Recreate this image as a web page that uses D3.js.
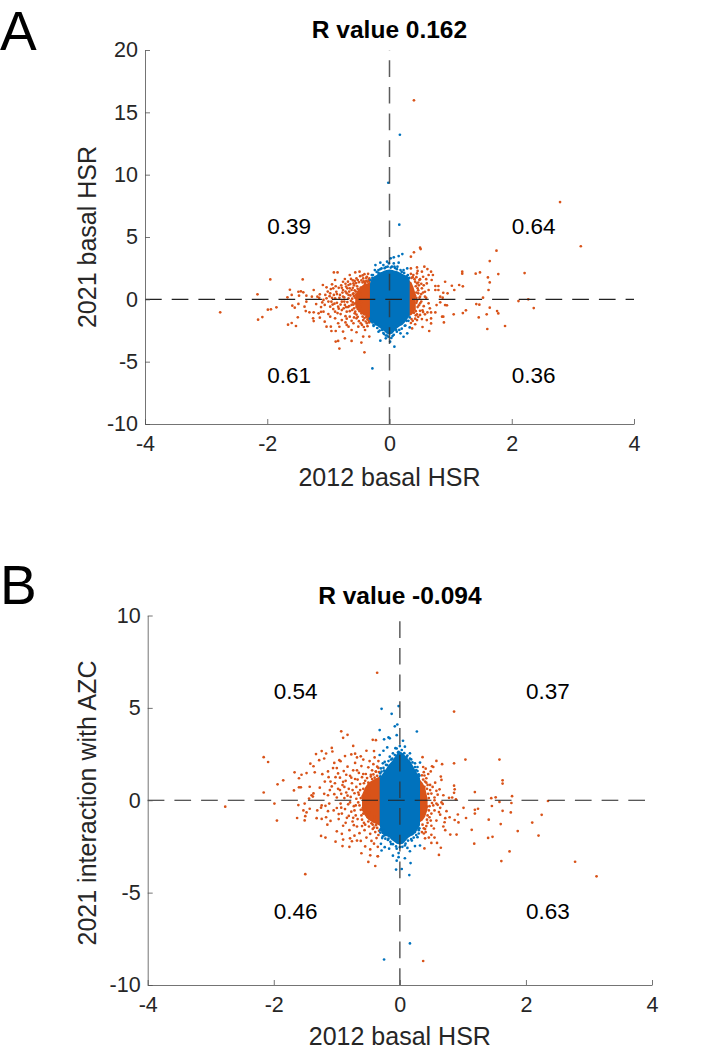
<!DOCTYPE html>
<html><head><meta charset="utf-8">
<script src="https://cdnjs.cloudflare.com/ajax/libs/d3/7.8.5/d3.min.js"></script>
<style>html,body{margin:0;padding:0;background:#fff}svg{display:block}text{font-family:"Liberation Sans",Arial,sans-serif}</style>
</head><body><svg id="c" width="714" height="1050"></svg>
<script>
const xTicks=[-4,-2,0,2,4];
const yTicksA=[-10,-5,0,5,10,15,20];
const yTicksB=[-10,-5,0,5,10];
const quadA=[["0.39",-2,5.9],["0.64",2,5.9],["0.61",-2,-6.1],["0.36",2,-6.1]];
const quadB=[["0.54",-2,5.9],["0.37",2,5.9],["0.46",-2,-6],["0.63",2,-6]];

// dense centre of each cloud, read as outlines
const blueCoreA=[[-0.32,1.25,-1.45],[-0.29,1.7,-1.75],[-0.25,1.85,-1.95],[-0.21,1.95,-2.1],[-0.17,2.15,-2.25],[-0.13,2.2,-2.4],[-0.09,2.3,-2.55],[-0.05,2.35,-2.75],[0,2.4,-2.85],[0.05,2.35,-2.75],[0.09,2.3,-2.5],[0.13,2.25,-2.3],[0.17,2.15,-2.15],[0.21,2.05,-2.05],[0.25,1.95,-1.85],[0.29,1.85,-1.6],[0.33,1.6,-1.3]];
const orangeCoreA=[[-0.56,0.35,-0.5],[-0.52,0.75,-0.85],[-0.47,1.0,-1.1],[-0.42,1.2,-1.3],[-0.36,1.3,-1.35],[-0.31,1.4,-1.5]];
const orangeCoreA2=[[0.31,1.55,-1.35],[0.36,1.35,-1.25],[0.39,1.0,-1.1],[0.43,0.4,-0.8]];
const blueCoreB=[[-0.32,1.2,-1.35],[-0.29,1.35,-1.8],[-0.25,1.55,-1.9],[-0.21,1.75,-1.95],[-0.17,1.95,-2.0],[-0.13,2.1,-2.15],[-0.09,2.3,-2.25],[-0.05,2.5,-2.35],[0,2.65,-2.4],[0.05,2.55,-2.35],[0.09,2.4,-2.2],[0.13,2.25,-2.05],[0.17,2.1,-1.95],[0.21,1.85,-1.9],[0.25,1.6,-1.75],[0.29,1.4,-1.55],[0.32,1.2,-1.35]];
const orangeCoreB=[[-0.60,0.3,-0.55],[-0.55,0.7,-0.85],[-0.5,0.95,-1.05],[-0.43,1.1,-1.2],[-0.37,1.2,-1.3],[-0.31,1.3,-1.4]];
const orangeCoreB2=[[0.31,1.15,-1.2],[0.36,0.95,-1.1],[0.40,0.7,-0.9],[0.44,0.1,-0.5]];

const orangeA=[[0.40,15.96],[2.79,7.8],[3.13,4.26],
[-2.77,-1.04],[-2.16,0.40],[-1.95,1.60],[-1.42,1.60],[-1.85,-0.64],[-1.94,-0.80],[-1.99,-0.83],[-2.08,-1.42],[-2.15,-1.63],[-1.63,0.77],[-1.60,0.35],[-1.67,0.16],[-1.59,-0.51],[-1.55,-0.67],[-1.49,-0.37],[-1.50,-1.44],[-1.60,-1.90],[-1.66,-2.03],[-1.53,-2.14],[-1.49,0.61],[-1.45,0.64],[-1.41,0.56],[-1.48,0.29],
[-1.24,0.75],[-1.09,1.15],[-1.03,0.96],[-1.14,0.40],[-1.27,0.21],[-1.18,0.21],[-1.36,0.29],[-1.36,-0.19],[-1.39,-0.59],[-1.31,-1.04],[-1.37,-0.94],[-1.24,-1.04],[-1.16,-1.12],[-1.25,-1.52],[-1.24,-1.74],[-1.14,-1.47],[-1.08,-0.99],[-1.06,-0.45],[-1.08,-0.05],[-1.03,0.08],[-0.97,0.48],[-0.92,0.88],[-0.87,0.61],[-0.97,-0.59],[-0.95,-0.19],[-0.89,0.08],[-0.81,0.35],[-0.76,0.75],[-0.67,1.15],[-0.76,1.41],[-0.89,1.55],[-0.91,2.16],[-0.85,2.16],[-0.73,1.63],[-0.65,1.95],[-0.56,2.16],[-0.49,2.22],[-0.54,1.68],[-0.59,1.28],[-0.65,0.88],[-0.70,0.48],[-0.78,-0.19],[-0.84,-0.59],[-0.89,-0.99],[-0.97,-1.39],[-1.06,-1.79],[-1.03,-2.19],[-0.96,-2.19],[-0.95,-2.54],[-0.88,-2.54],[-0.84,-1.92],[-0.78,-1.66],[-0.89,-1.52],[-0.70,-0.99],
[-0.62,-0.45],[-0.54,0.08],[-0.48,0.61],[-0.40,1.15],[-0.37,1.81],[-0.33,1.41],[-0.43,1.68],[-0.59,0.48],[-0.67,0.08],[-0.73,-0.45],[-0.78,-0.86],[-0.65,-1.39],[-0.56,-0.99],[-0.48,-0.59],[-0.54,-1.52],[-0.46,-1.12],[-0.59,-1.92],[-0.51,-2.19],[-0.43,-1.66],[-0.35,-1.39],[-0.67,-2.19],[-0.62,-2.46],[-0.54,-2.64],[-0.40,-2.46],[-0.37,-1.92],[-0.76,-2.59],[-0.73,-3.13],[-0.62,-3.34],[-0.46,-3.47],[-0.43,-2.99],[-0.84,-3.34],[-0.88,-3.39],[-0.82,-3.95],[-0.41,-4.25],[-0.33,-2.99],
[-0.98,0.25],[-0.93,-0.42],[-0.91,0.35],[-0.86,-0.28],[-0.83,0.92],[-0.82,0.12],[-0.79,1.12],[-0.80,-1.18],[-0.77,0.54],[-0.75,-0.72],[-0.74,0.15],[-0.72,-1.35],[-0.71,1.02],[-0.69,-0.22],[-0.68,1.42],[-0.68,-0.62],[-0.66,0.62],[-0.65,-0.95],[-0.64,0.31],[-0.63,1.64],[-0.62,-1.72],[-0.61,0.05],[-0.60,0.92],[-0.60,-0.25],[-0.58,-0.72],[-0.57,0.72],[-0.57,1.48],[-0.56,-0.32],[-0.55,0.38],[-0.54,-1.22],[-0.53,1.05],[-0.52,-0.78],[-0.51,0.22],[-0.50,1.38],[-0.50,-1.75],[-0.49,-0.12],[-0.48,1.86],[-0.47,-1.92],[-0.46,1.52],[-0.45,-2.05],[-0.44,1.92],[-0.42,-2.22],[-0.41,2.02],[-0.39,-1.78],[-0.38,1.72],[-0.36,-2.15],[-0.35,2.05],[-0.34,-1.72],[-0.72,-1.85],[-0.85,-1.1],[-0.92,-0.78],[-1.0,-1.18],[-1.12,-0.62],[-1.01,0.62],[-1.2,-0.38],[-0.94,1.2],[-0.82,-2.2],[-0.7,-2.05],
[-0.47,0.95],[-0.48,0.35],[-0.47,-0.25],[-0.49,-0.95],[-0.5,0.55],[-0.51,-0.45],[-0.52,0.85],[-0.53,-0.15],[-0.54,-0.62],[-0.55,0.62],[-0.56,0.12],[-0.57,-1.12],[-0.58,0.25],[-0.58,1.12],[-0.59,-0.42],[-0.6,0.42],[-0.61,-0.85],[-0.62,0.75],[-0.63,-0.12],[-0.64,1.22],[-0.66,-0.55],[-0.67,0.35],[-0.69,0.88],[-0.71,-0.62],[-0.72,0.62],[-0.74,-0.18],[-0.76,0.22],[-0.78,0.92],[-0.8,-0.42],[-0.83,-0.75],[-0.86,0.42],[-0.88,1.05],[-0.9,-0.35],[-0.94,0.12],[-0.96,0.82],[-1.0,-0.18],[-1.05,0.35],[-1.1,-0.25],[-1.15,0.12],[-1.12,-1.0],
[-0.44,1.35],[-0.42,1.45],[-0.4,1.32],[-0.38,1.48],[-0.36,1.42],[-0.34,1.56],[-0.33,1.68],[-0.44,-1.38],[-0.41,-1.5],[-0.38,-1.42],[-0.36,-1.6],[-0.34,-1.5],[-0.33,-1.85],[-0.52,1.55],[-0.55,1.3],[-0.52,-1.4],[-0.58,-1.45],[-0.6,1.52],[-0.72,1.25],[-0.7,-1.55],
[0.51,4.03],[0.50,4.14],[1.75,3.90],[0.40,3.77],[0.35,3.42],[1.64,3.07],[0.35,2.48],[0.45,2.56],[0.57,2.62],[0.62,2.43],[0.68,2.22],[0.53,2.22],[0.45,2.08],[0.39,1.95],[0.55,1.81],[0.64,1.95],[0.71,1.95],[0.49,1.55],[0.69,1.55],[0.61,1.28],[0.91,1.41],[1.02,1.09],[1.14,1.15],[1.20,1.04],[1.06,0.75],[1.19,2.22],[1.19,2.06],[1.41,2.06],[1.48,2.16],[1.61,1.76],[1.78,2.03],[2.21,2.11],[1.64,1.36],[1.62,0.75],[1.53,0.13],[0.75,1.07],[0.80,1.07],[0.75,0.75],[0.80,0.75],[0.88,0.53],[0.95,0.48],[0.83,0.21],[0.87,0.13],[0.58,0.61],[0.64,0.75],[0.53,0.88],[0.50,0.21],[0.58,0.21],[0.47,0.48],[0.45,1.28],[0.46,0.88],[2.11,-0.14],[2.27,0],[2.36,-0.70],[1.42,-0.38],[1.47,-0.43],[1.64,-0.67],[1.76,-0.94],[1.78,-1.13],[1.59,-1.2],[1.46,-1.45],[1.89,-2.14],[1.60,-2.38],[1.25,-0.88],[1.20,-1.1],[1.05,-1.2],[0.94,-0.48],[0.91,-0.46],[0.77,-0.46],[0.83,-0.24],[0.64,-0.32],[0.50,-0.32],[0.66,-0.72],[0.75,-1.05],[0.62,-1.05],[0.68,-1.05],[0.54,-0.88],[0.50,-1.25],[0.45,-1.2],[0.58,-1.2],[0.53,-1.58],[0.61,-1.66],[0.68,-1.53],[0.68,-1.93],[0.86,-1.39],[0.88,-1.39],[0.89,-1.85],[0.54,-2.22],[0.65,-2.54],[0.37,-2.33],[0.45,-1.66],
[0.43,1.05],[0.44,0.55],[0.42,0.28],[0.45,-0.12],[0.46,-0.62],[0.43,-0.95],[0.41,1.62],[0.38,1.78],[0.48,1.12],[0.52,0.42],[0.48,-0.48],[0.42,-1.55],[0.38,-1.72],[0.52,-0.18],[0.55,0.55],[0.6,0.12],[0.44,-0.28],[0.4,-1.08],
[0.36,1.72],[0.35,2.05],[0.42,1.42],[0.44,1.78],[0.47,1.35],[0.47,0.72],[0.49,0.12],[0.5,-0.92],[0.47,-1.4],[0.43,-1.28],[0.36,-1.58],[0.35,-1.9],[0.42,-2.0],[0.5,1.62],[0.52,1.25],[0.56,1.12],[0.46,2.28],[0.6,1.62],[0.56,-0.55],[0.55,-1.02],[0.44,0.12]];

const blueA=[[0.17,13.2],[-0.02,9.35],[0.16,5.99],[0.21,3.63],[0.15,3.47],[0.07,3.37],[0.02,3.29],[-0.04,3.02],[-0.15,2.94],[-0.23,2.75],[-0.10,2.75],[-0.01,2.88],[0.15,2.94],[0.07,2.88],[0.13,2.62],[0.29,2.48],[-0.29,1.95],[-0.24,2.35],[-0.18,2.35],[0.23,2.35],[-0.06,2.58],[0.04,2.62],[-0.18,2.12],[0.2,2.2],[-0.28,1.72],[0.28,1.85],[-0.13,2.48],[0.09,2.52],
[-0.31,1.55],[-0.27,1.95],[-0.21,2.2],[-0.15,2.42],[-0.08,2.5],[-0.03,2.62],[0.02,2.55],[0.08,2.62],[0.12,2.42],[0.18,2.35],[0.24,2.12],[0.3,1.95],[0.32,1.72],[-0.3,-1.75],[-0.26,-2.05],[-0.2,-2.3],[-0.16,-2.5],[-0.1,-2.7],[-0.06,-2.9],[0.07,-2.85],[0.12,-2.6],[0.2,-2.35],[0.26,-2.1],[0.31,-1.72],[-0.32,-1.55],[0.33,-1.45],
[0.08,-3.8],[-0.28,-5.54],[0.01,-3.40],[-0.15,-3.32],[-0.06,-3.13],[-0.02,-3.0],[0.23,-3.0],[0.29,-2.73],[0.18,-2.73],[-0.18,-2.6],[-0.26,-2.14],[-0.12,-2.46],[0.33,-2.25],[0.11,-2.46],[-0.30,-1.62],[-0.22,-2.02],[0.25,-2.12],[0.16,-2.45],[0.05,-2.95],[-0.09,-2.78],[0.28,-1.72],[-0.28,-1.85],[-0.04,-2.9],[0.03,-3.1]];

const orangeB=[[-0.36,6.9],[0.86,4.8],[0.37,-8.7],
[-2.77,-0.35],[-2.16,2.33],[-2.09,2.07],[-1.94,0.86],[-1.85,1.08],[-2.16,0.42],[-1.99,-0.18],[-1.95,-1.10],[-1.68,0.53],[-1.67,1.51],[-1.60,1.19],[-1.56,1.38],[-1.48,1.47],[-1.60,0.70],[-1.57,0.70],[-1.61,-0.26],[-1.63,-0.96],[-1.53,-0.55],[-1.48,-0.66],[-1.50,-0.86],[-1.51,-1.09],[-1.51,-0.18],[-1.43,-0.46],[-1.44,0.09],[-1.40,0.27],[-1.37,0.37],[-1.38,0.20],[-1.43,0.73],[-1.42,1.98],[-1.37,1.84],[-1.33,2.50],[-1.28,2.17],[-1.24,2.66],[-1.20,2.26],[-1.17,2.53],[-1.08,2.83],[-1.07,2.64],[-0.93,3.73],[-0.90,3.38],[-0.83,3.54],[-0.74,2.94],[-0.77,2.48],[-0.71,2.52],[-0.87,2.39],[-0.96,2.17],[-1.04,2.02],[-0.94,2.11],[-1.14,1.56],[-1.23,1.41],[-1.35,1.51],[-1.19,1.01],[-1.27,0.68],[-1.10,1.01],[-1.03,0.92],[-1.06,1.74],[-1.00,1.74],[-1.11,0.55],[-1.14,0.27],[-1.24,-0.28],[-1.25,-0.40],[-1.31,-0.55],[-1.32,-0.97],[-1.24,-1.01],[-1.17,-0.92],[-1.14,-0.59],[-1.15,-1.32],[-1.25,-1.93],[-1.18,-2.02],[-1.02,-2.24],[-0.90,-2.13],[-0.91,-2.48],[-0.80,-2.52],[-0.79,-2.06],[-0.76,-2.22],[-1.50,-4.0],[-0.61,-2.87],[-0.55,-2.50],[-0.47,-2.66],[-0.47,-2.98],[-0.35,-3.03],[-0.50,-3.34],[-0.39,-3.56],[-0.43,3.27],[-0.38,3.25],[-0.53,2.68],[-0.41,2.66],
[-1.04,0.33],[-1.0,-0.42],[-0.98,0.62],[-0.97,-1.02],[-0.95,1.22],[-0.94,-0.18],[-0.93,0.35],[-0.92,-0.72],[-0.91,0.82],[-0.9,-1.38],[-0.89,1.58],[-0.88,0.12],[-0.87,-0.48],[-0.86,1.05],[-0.85,0.42],[-0.84,-0.95],[-0.83,1.82],[-0.82,-0.22],[-0.81,0.62],[-0.8,-1.62],[-0.79,1.32],[-0.78,0.18],[-0.77,-0.62],[-0.76,0.92],[-0.75,-1.15],[-0.74,1.62],[-0.73,-0.32],[-0.72,0.38],[-0.71,2.02],[-0.7,-0.82],[-0.69,0.72],[-0.68,-1.42],[-0.67,1.12],[-0.66,-0.12],[-0.65,1.48],[-0.64,-1.78],[-0.63,0.55],[-0.62,-0.52],[-0.61,1.85],[-0.6,-1.05],[-0.59,0.22],[-0.58,2.2],[-0.57,0.92],[-0.56,-1.62],[-0.55,-0.25],[-0.54,1.42],[-0.53,-2.02],[-0.52,0.62],[-0.51,-0.92],[-0.5,1.78],[-0.49,-1.42],[-0.48,2.12],[-0.47,-1.82],[-0.46,1.28],[-0.45,-2.2],[-0.44,1.62],[-0.43,-1.55],[-0.42,1.95],[-0.41,-2.35],[-0.4,2.32],[-0.39,-1.72],[-0.38,1.55],[-0.37,-2.05],[-0.36,1.82],[-0.35,-2.52],[-0.34,2.12],[-0.33,-1.65],[-0.33,1.52],[-0.72,-1.92],[-0.68,-2.18],[-0.62,-2.2],[-0.85,1.38],[-0.98,1.45],[-1.0,-1.68],[-0.92,-1.82],[-0.68,2.32],[-0.62,2.38],[-1.12,-0.18],[-0.58,-0.72],[-0.62,0.12],[-0.66,0.42],[-0.7,-0.28],[-0.74,-0.95],[-0.55,1.05],[-0.52,-0.42],
[-0.48,0.25],[-0.49,-0.65],[-0.5,0.95],[-0.51,-0.15],[-0.53,0.42],[-0.54,-0.75],[-0.56,0.15],[-0.57,-1.22],[-0.58,0.62],[-0.59,-0.42],[-0.6,1.25],[-0.61,-0.82],[-0.63,0.88],[-0.64,-0.28],[-0.65,0.3],[-0.67,-1.02],[-0.68,1.62],[-0.69,0.08],[-0.71,1.15],[-0.72,-0.55],[-0.73,-1.35],[-0.75,0.55],[-0.77,1.22],[-0.79,-0.12],[-0.81,-0.85],[-0.83,0.25],[-0.86,-1.22],[-0.88,0.72],[-0.9,1.0],[-0.93,-0.4],[-0.95,0.55],[-0.97,-0.75],[-1.0,0.15],[-1.02,1.25],[-1.05,-0.55],[-1.08,0.75],[-1.1,-1.12],[-1.13,1.25],[-1.18,-0.3],[-1.2,0.35],
[-0.46,1.38],[-0.44,1.15],[-0.42,1.4],[-0.4,1.22],[-0.38,1.55],[-0.36,1.32],[-0.34,1.75],[-0.45,-1.25],[-0.43,-1.32],[-0.41,-1.48],[-0.38,-1.35],[-0.36,-1.5],[-0.34,-1.88],[-0.4,-0.9],[-0.52,1.2],[-0.49,0.62],[-0.55,-1.32],[-0.5,-1.15],[-0.58,1.42],[-0.6,-1.4],
[1.58,2.2],[1.04,2.2],[0.58,2.13],[0.36,2.33],[0.67,1.95],[0.86,2.0],[0.51,1.84],[0.53,1.80],[0.37,1.80],[0.41,1.71],[0.49,1.56],[0.65,1.28],[0.66,1.10],[1.63,1.08],[1.63,0.90],[0.39,1.34],[0.42,1.19],[0.40,1.01],[0.44,0.83],[0.48,0.83],[0.39,0.73],[0.86,0.79],[0.87,0.59],[0.86,0.40],[0.63,0.59],[0.58,0.51],[0.69,0.27],[0.50,0.36],[1.19,0.44],[0.78,0.13],[0.83,0.15],[0.89,0.05],[1.45,0.11],[1.52,0.16],[1.78,0.22],[1.58,-0.09],[1.77,-0.15],[1.46,-0.31],[2.35,-0.04],[0.55,0],[0.58,-0.18],[1.01,-0.41],[1.19,-0.52],[1.24,-0.46],[1.19,-0.72],[1.63,-0.57],[1.76,-0.66],[2.25,-0.79],[0.55,-0.55],[0.62,-0.64],[0.64,-0.41],[0.74,-0.59],[0.79,-0.92],[0.72,-0.97],[0.92,-0.77],[1.05,-0.96],[0.87,-1.07],[0.93,-1.20],[1.41,-1.05],[1.60,-1.29],[2.10,-1.21],[1.87,-1.67],[1.14,-1.6],[0.71,-1.19],[0.69,-1.42],[0.72,-1.62],[0.50,-1.38],[0.58,-1.10],[0.49,-1.10],[0.40,-1.56],[0.54,-1.53],[0.80,-1.86],[0.90,-1.86],[1.40,-2.04],[1.47,-1.98],[2.20,-1.91],[0.50,-1.87],[0.55,-2.02],[0.38,-1.80],[0.40,-2.06],[0.46,-2.02],[0.59,-2.31],[0.50,-2.31],[1.18,-2.35],[0.65,-2.57],[0.39,-2.61],[0.62,-2.96],[1.74,-2.77],[1.61,-3.29],[2.78,-3.33],[3.12,-4.12],[-0.35,-3.03],
[0.46,0.12],[0.5,-0.72],[0.47,-0.32],[0.52,0.72],[0.45,1.42],[0.47,-0.92],[0.44,-1.22],[0.42,-1.4],[0.48,0.55],[0.53,-0.28],[0.6,-0.25],[0.66,-0.12],
[0.45,0.35],[0.43,0.62],[0.46,-0.55],[0.44,-0.82],[0.43,-0.35],[0.42,0.95],[0.37,1.12],[0.38,1.52],[0.35,1.35],[0.36,-1.32],[0.38,-1.52],[0.35,-1.72],[0.41,-1.72],[0.43,-1.05],[0.55,0.15],[0.51,-0.15],[0.56,0.95],[0.6,0.3],[0.64,-0.78],[0.68,-0.2]];

const blueB=[[-0.02,5.1],[-0.29,4.95],[-0.13,4.68],[-0.04,4.1],[-0.08,4.0],[-0.32,3.8],[0.27,3.72],[-0.25,3.3],[-0.18,3.4],[-0.16,3.35],[-0.05,3.52],[0.05,3.22],[-0.20,2.86],[-0.07,2.82],[0,2.93],[0.08,2.9],[-0.26,2.68],[-0.02,2.62],[0.16,2.54],[-0.32,2.45],[-0.16,2.36],[-0.11,2.54],[-0.24,2.08],[0.11,2.36],[0.18,2.21],[0.24,2.0],[0.32,2.04],[-0.30,1.72],[-0.20,1.9],[0.26,1.63],[-0.31,1.45],[0.3,1.4],[-0.27,2.0],[0.28,1.8],[-0.14,2.2],[0.14,2.1],[-0.25,1.6],[-0.05,2.8],
[-0.31,1.3],[-0.29,1.55],[-0.26,1.75],[-0.22,1.92],[-0.18,2.12],[-0.12,2.25],[-0.08,2.45],[-0.03,2.58],[0.03,2.72],[0.07,2.55],[0.12,2.42],[0.16,2.25],[0.2,2.05],[0.24,1.8],[0.28,1.58],[0.31,1.32],[-0.3,-1.55],[-0.27,-1.95],[-0.23,-2.08],[-0.19,-2.15],[-0.15,-2.25],[-0.11,-2.38],[-0.06,-2.5],[0.04,-2.52],[0.09,-2.35],[0.13,-2.18],[0.18,-2.1],[0.22,-2.02],[0.26,-1.88],[0.3,-1.62],[-0.31,-1.75],
[0.15,-4.05],[-0.06,-3.75],[0.03,-3.72],[0.17,-3.4],[-0.05,-3.27],[-0.02,-3.08],[0.08,-3.14],[-0.11,-3.0],[0.16,-2.76],[-0.17,-2.62],[-0.29,-2.72],[-0.24,-2.54],[-0.05,-2.62],[0,-2.54],[0.08,-2.45],[0.24,-2.48],[0.32,-2.45],[-0.30,-2.36],[-0.18,-2.08],[0.19,-2.18],[0.28,-2.0],[-0.24,-1.9],[0.24,-1.72],[-0.26,-1.54],[0.16,-7.75],[-0.25,-8.62],[-0.31,-1.6],[0.31,-1.52],[-0.14,-2.37],[0.12,-2.58],[-0.02,-2.86],[-0.28,-2.05],[0.3,-1.8]];

const svg=d3.select("#c");
const INK="#262626";
function panel(o){
  const g=svg.append("g");
  const x=d3.scaleLinear().domain([-4,4]).range(o.xr);
  const y=d3.scaleLinear().domain(o.yd).range(o.yr);
  const area=d3.area().x(d=>x(d[0])).y0(d=>y(d[1])).y1(d=>y(d[2]));
  o.orangeCores.forEach(c=>g.append("path").attr("d",area(c)).attr("fill","#D95319"));
  g.append("g").selectAll("circle").data(o.orange).join("circle").attr("cx",d=>x(d[0])).attr("cy",d=>y(d[1])).attr("r",1.35).attr("fill","#D95319");
  g.append("path").attr("d",area(o.blueCore)).attr("fill","#0072BD");
  g.append("g").selectAll("circle").data(o.blue).join("circle").attr("cx",d=>x(d[0])).attr("cy",d=>y(d[1])).attr("r",1.35).attr("fill","#0072BD");
  // zero lines
  g.append("line").attr("x1",x(-4)).attr("x2",x(4)).attr("y1",y(0)).attr("y2",y(0)).attr("stroke","#222").attr("stroke-width",1.2).attr("stroke-dasharray","16.7 10");
  g.append("line").attr("x1",x(0)).attr("x2",x(0)).attr("y1",y(o.yd[0])).attr("y2",y(o.yd[1])).attr("stroke","#333").attr("stroke-opacity",.8).attr("stroke-width",1.5).attr("stroke-dasharray","16.7 10");
  // axes
  const fmt=d=>String(d);
  const ax=g.append("g").attr("transform",`translate(0,${o.yr[0]})`).call(d3.axisBottom(x).tickValues(xTicks).tickFormat(fmt).tickSizeInner(-5).tickSizeOuter(0).tickPadding(12));
  const ay=g.append("g").attr("transform",`translate(${o.xr[0]},0)`).call(d3.axisLeft(y).tickValues(o.yt).tickFormat(fmt).tickSizeInner(-5).tickSizeOuter(0).tickPadding(7));
  [ax,ay].forEach(a=>{a.selectAll("text").attr("font-size",21.5).attr("fill",INK).style("font-family",'"Liberation Sans",Arial,sans-serif');
    a.selectAll("line,path").attr("stroke","#505050").attr("stroke-width",.8);});
  // quadrant values
  g.selectAll("text.q").data(o.quad).join("text").attr("class","q").attr("x",d=>x(d[1])).attr("y",d=>y(d[2])).attr("dy",".35em").attr("font-size",22.5).attr("fill","#000").text(d=>d[0]);
  // labels
  g.append("text").attr("x",x(0)).attr("y",o.titleY).attr("text-anchor","middle").attr("font-size",24.5).attr("font-weight","bold").attr("fill","#000").text(o.title);
  g.append("text").attr("x",x(0)).attr("y",o.xlabY).attr("text-anchor","middle").attr("font-size",25).attr("fill",INK).text(o.xlab);
  g.append("text").attr("transform",`translate(${o.ylabX},${o.ylabC}) rotate(-90)`).attr("text-anchor","middle").attr("font-size",25).attr("fill",INK).text(o.ylab);
  g.append("text").attr("x",o.letterX).attr("y",o.letterY).attr("font-size",55).attr("fill","#000").text(o.letter);
}
panel({letter:"A",letterX:0,letterY:50,xr:[145,634],yd:[-10,20],yr:[424,50],yt:yTicksA,orange:orangeA,blue:blueA,blueCore:blueCoreA,orangeCores:[orangeCoreA,orangeCoreA2],quad:quadA,title:"R value 0.162",titleY:38,xlab:"2012 basal HSR",xlabY:486,ylab:"2021 basal HSR",ylabX:96,ylabC:237});
panel({letter:"B",letterX:0,letterY:604,xr:[147.7,652],yd:[-10,10],yr:[985,615.5],yt:yTicksB,orange:orangeB,blue:blueB,blueCore:blueCoreB,orangeCores:[orangeCoreB,orangeCoreB2],quad:quadB,title:"R value -0.094",titleY:604,xlab:"2012 basal HSR",xlabY:1045,ylab:"2021 interaction with AZC",ylabX:96,ylabC:803});
</script></body></html>
